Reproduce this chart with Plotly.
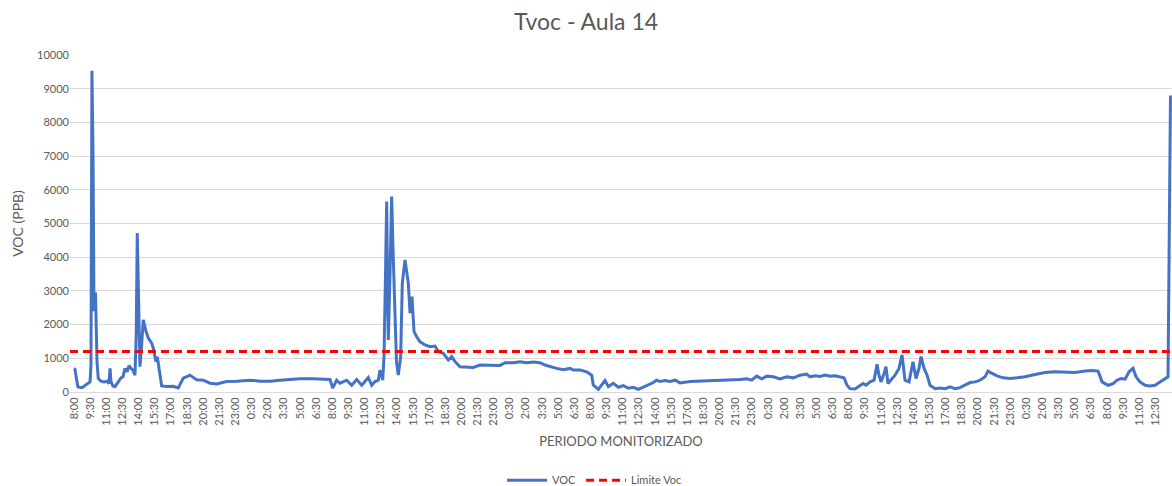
import pandas as pd
import plotly.graph_objects as go

# Monitoring start (day 1, 08:00); readings are hours elapsed since then
start = pd.Timestamp("2023-05-08 08:00")

elapsed_h = [
    0.00, 0.09, 0.28, 0.37, 0.74, 1.02, 1.30, 1.49, 1.58, 1.67, 1.77, 1.86, 2.00, 2.14, 2.26,
    2.51, 2.79, 3.07, 3.25, 3.35, 3.44, 3.62, 3.81, 4.12, 4.37, 4.55, 4.74, 4.93, 5.11, 5.30,
    5.48, 5.67, 5.79, 5.88, 5.99, 6.13, 6.27, 6.44, 6.69, 6.91, 7.22, 7.37, 7.53, 7.62, 7.74,
    7.93, 8.15, 8.64, 9.20, 9.69, 10.16, 10.78, 11.40, 12.02, 12.64, 13.26, 14.19, 15.12, 16.36,
    17.29, 18.22, 19.14, 20.07, 21.00, 22.21, 23.05, 23.79, 24.04, 24.41, 24.72, 25.34, 25.81,
    26.27, 26.74, 27.04, 27.35, 27.67, 27.97, 28.28, 28.44, 28.69, 28.81, 28.95, 29.06, 29.14,
    29.21, 29.37, 29.52, 29.67, 29.83, 29.97, 30.14, 30.36, 30.51, 30.76, 31.07, 31.23, 31.41,
    31.60, 31.85, 32.16, 32.62, 33.09, 33.55, 33.86, 34.32, 34.64, 34.79, 35.10, 35.41, 35.87,
    36.50, 37.11, 37.73, 38.35, 38.97, 39.59, 40.06, 40.83, 41.45, 42.07, 42.69, 43.31, 43.77,
    44.24, 44.86, 45.47, 46.10, 46.40, 47.03, 47.65, 48.11, 48.26, 48.73, 49.04, 49.35, 49.66,
    50.12, 50.59, 51.05, 51.52, 51.98, 52.45, 52.91, 53.37, 53.84, 54.15, 54.46, 54.93, 55.39,
    55.86, 56.32, 57.25, 58.18, 59.11, 60.04, 60.97, 61.90, 62.52, 62.98, 63.45, 63.91, 64.38,
    64.99, 65.61, 66.24, 66.85, 67.47, 68.09, 68.40, 68.87, 69.33, 69.80, 70.26, 70.72, 71.19,
    71.56, 71.84, 72.12, 72.58, 73.05, 73.33, 73.61, 73.98, 74.35, 74.63, 74.81, 75.00, 75.28,
    75.46, 75.65, 75.93, 76.30, 76.67, 76.95, 77.23, 77.60, 77.97, 78.25, 78.53, 78.72, 79.00,
    79.28, 79.55, 80.02, 80.48, 80.95, 81.41, 81.88, 82.34, 82.81, 83.27, 83.74, 84.20, 84.67,
    84.94, 85.32, 85.78, 86.34, 86.99, 87.64, 88.38, 89.31, 90.24, 91.17, 92.10, 93.03, 93.96,
    94.61, 95.17, 95.54, 96.10, 96.56, 96.93, 97.30, 97.68, 98.05, 98.42, 98.70, 99.07, 99.54,
    100.00, 100.46, 100.93, 101.39, 101.67, 101.90,
]

voc_ppb = [
    700, 680, 300, 150, 130, 200, 270, 300, 800, 9530, 7000, 2400, 2950, 900, 400,
    320, 300, 320, 250, 700, 300, 180, 160, 300, 420, 450, 700, 600, 780, 700,
    650, 500, 1800, 4720, 2500, 750, 1300, 2140, 1800, 1600, 1450, 1300, 1050, 900, 1050,
    600, 180, 160, 170, 120, 410, 500, 360, 350, 260, 240, 310, 320, 350,
    320, 320, 350, 370, 390, 390, 380, 370, 120, 350, 260, 350, 200,
    370, 200, 300, 430, 200, 310, 350, 650, 350, 1050, 3500, 5650, 3000,
    1540, 3500, 5800, 4010, 2230, 900, 500, 1050, 3220, 3920, 3230, 2340, 2830,
    1790, 1640, 1490, 1395, 1345, 1365, 1200, 1150, 1000, 950, 1050, 900, 750,
    750, 730, 800, 800, 780, 790, 870, 870, 900, 870, 890, 870, 800,
    750, 700, 660, 700, 650, 650, 600, 500, 210, 80, 210, 340, 160,
    260, 140, 190, 110, 140, 80, 140, 210, 280, 350, 310, 340, 310,
    350, 270, 310, 320, 320, 350, 350, 370, 390, 350, 470, 390, 470,
    450, 390, 450, 420, 500, 530, 450, 480, 460, 500, 470, 480, 450,
    420, 200, 100, 90, 180, 250, 200, 300, 350, 820, 500, 300, 550,
    750, 250, 350, 500, 700, 1100, 350, 300, 900, 400, 700, 1050, 700,
    500, 200, 100, 120, 100, 150, 100, 130, 200, 280, 300, 350, 450,
    620, 550, 480, 420, 400, 420, 450, 520, 580, 600, 600, 580, 620,
    640, 620, 300, 200, 250, 350, 400, 380, 600, 700, 450, 300, 200,
    180, 200, 300, 400, 450, 8800,
]

limit_ppb = 1200
axis_start_h = -0.37
axis_end_h = 102.04

times = start + pd.to_timedelta(elapsed_h, unit="h")
t_first = start + pd.Timedelta(hours=axis_start_h)
t_last = start + pd.Timedelta(hours=axis_end_h)

grey = "#595959"
font_family = "Lato, 'Open Sans', Arial, sans-serif"

fig = go.Figure()
fig.add_trace(go.Scatter(
    x=times, y=voc_ppb, mode="lines", name="VOC",
    line=dict(color="#4472C4", width=3),
))
fig.add_trace(go.Scatter(
    x=[t_first, t_last], y=[limit_ppb, limit_ppb], mode="lines", name="Limite Voc",
    line=dict(color="#FF0000", width=3, dash="8px,5px"),
))

fig.update_layout(
    width=1172, height=486,
    margin=dict(l=70, r=0, t=55, b=94),
    paper_bgcolor="white", plot_bgcolor="white",
    font=dict(family=font_family, color=grey),
    title=dict(text="Tvoc - Aula 14", x=0.5, xanchor="center", y=0.955, yanchor="middle",
               font=dict(size=23, color=grey)),
    showlegend=True,
    legend=dict(orientation="h", x=0.476, xanchor="center",
                yref="container", y=0.012, yanchor="middle",
                itemwidth=40, font=dict(size=11, color=grey)),
    xaxis=dict(
        type="date", range=[t_first, t_last], automargin=False,
        tick0=start, dtick=5400000, tickformat="%-H:%M",
        tickangle=-90, tickfont=dict(size=11, color=grey),
        showgrid=False, showline=True, linecolor="#d9d9d9", ticks="",
        title=dict(text="PERIODO MONITORIZADO", font=dict(size=13, color=grey), standoff=12),
    ),
    yaxis=dict(
        range=[0, 10000], dtick=1000, tickformat="d", automargin=False,
        showgrid=True, gridcolor="#d9d9d9", zeroline=False,
        tickfont=dict(size=11, color=grey), ticks="", ticklen=0,
        title=dict(text="VOC (PPB)", font=dict(size=14, color=grey), standoff=10),
    ),
)

fig.write_html("out.html")
